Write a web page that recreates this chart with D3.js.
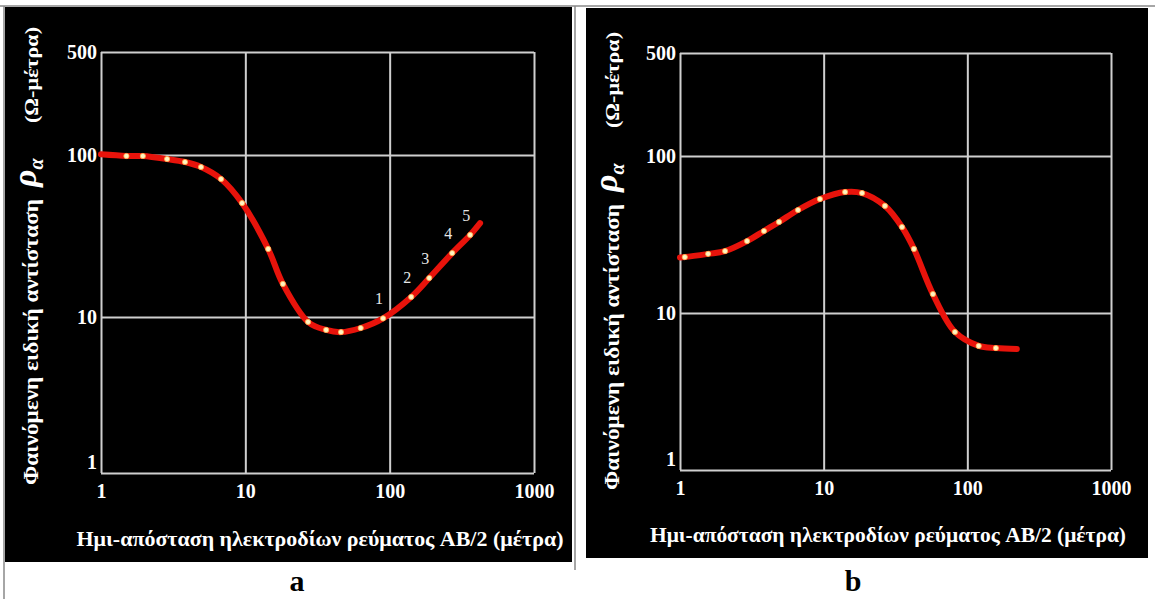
<!DOCTYPE html>
<html>
<head>
<meta charset="utf-8">
<script src="https://cdn.jsdelivr.net/npm/d3@7"></script>
<style>
  body { margin: 0; background: #fff; }
  svg { display: block; }
  svg text { font-family: 'Liberation Serif', 'DejaVu Serif', 'Times New Roman', serif; }
  .tick text { font-weight: bold; font-size: 20px; fill: #fff; }
</style>
</head>
<body>
<div id="app"></div>
<script>
// axis values
const xTicks = [1, 10, 100, 1000]
const yTicks = [1, 10, 100, 500]

// curve a : sounding points (AB/2 in m, rho_a in ohm-m)
const aX = [1.5, 1.95, 2.87, 3.82, 4.93, 6.79, 9.49, 14.4, 18.2, 27.2, 36.3, 46, 63, 90, 141, 188, 271, 361]
const aY = [98.6, 98.6, 94.5, 90.5, 84.3, 71.1, 50.5, 26.3, 16, 9.3, 8.26, 8.0, 8.5, 9.8, 13.3, 17.4, 24.8, 32.1]
const aStart = [1, 101]
const aEnd = [423, 38]
const aNumbers = ['1', '2', '3', '4', '5']
const aNumberX = [90, 141, 188, 271, 361]

// curve b
const bX = [1.08, 1.57, 2.06, 2.93, 3.84, 4.89, 6.63, 9.42, 14.1, 18.5, 26.7, 35.1, 42.5, 57.6, 82, 120, 158]
const bY = [22.7, 23.8, 24.8, 28.7, 33.3, 38.0, 45.3, 53.2, 59.0, 58.1, 48.1, 35.3, 25.6, 13.2, 7.57, 6.17, 5.98]
const bStart = [1, 22.6]
const bEnd = [221, 5.9]

const xTitle = 'Ημι-απόσταση ηλεκτροδίων ρεύματος AB/2 (μέτρα)'
const yTitle = 'Φαινόμενη ειδική αντίσταση'
const yUnit = '(Ω-μέτρα)'

const svg = d3.select('#app').append('svg').attr('width', 1155).attr('height', 599)

// table-like borders
svg.append('line').attr('x1', 0).attr('x2', 1155).attr('y1', 6).attr('y2', 6).attr('stroke', '#888').attr('stroke-width', 1.5)
svg.append('line').attr('x1', 4).attr('x2', 4).attr('y1', 6).attr('y2', 599).attr('stroke', '#888').attr('stroke-width', 1.5)
svg.append('line').attr('x1', 575).attr('x2', 575).attr('y1', 6).attr('y2', 570).attr('stroke', '#888').attr('stroke-width', 1.5)

function panel(o) {
  svg.append('rect').attr('x', o.bg[0]).attr('y', o.bg[1]).attr('width', o.bg[2]).attr('height', o.bg[3]).attr('fill', '#000')

  const x = d3.scaleLog().domain([1, 1000]).range(o.xr)
  const y = d3.scaleLog().domain(yTicks).range(o.yr)
  const g = svg.append('g')
  const h = o.yr[0] - o.yr[3]
  const w = o.xr[1] - o.xr[0]

  const gx = g.append('g').attr('transform', `translate(0,${o.yr[0]})`)
    .call(d3.axisBottom(x).tickValues(xTicks).tickFormat(d3.format('d')).tickSize(-h).tickPadding(11))
  const gy = g.append('g').attr('transform', `translate(${o.xr[0]},0)`)
    .call(d3.axisLeft(y).tickValues(yTicks).tickFormat(d3.format('d')).tickSize(-w).tickPadding(4))
  g.selectAll('.domain').remove()
  g.selectAll('g').attr('font-family', null)
  g.selectAll('.tick line').attr('stroke', '#cfcfcf').attr('stroke-width', 2)
  gy.selectAll('.tick text').filter(d => d === 1).attr('dy', '-0.25em')

  const pts = [o.start].concat(o.xs.map((d, i) => [d, o.ys[i]])).concat([o.end])
  const line = d3.line().x(d => x(d[0])).y(d => y(d[1])).curve(d3.curveCatmullRom.alpha(0.5))
  g.append('path').attr('d', line(pts)).attr('fill', 'none')
    .attr('stroke', '#e8130b').attr('stroke-width', 6).attr('stroke-linecap', 'round')

  g.selectAll('circle.pt').data(o.xs).enter().append('circle')
    .attr('class', 'pt')
    .attr('cx', d => x(d))
    .attr('cy', (d, i) => y(o.ys[i]))
    .attr('r', 2.6)
    .attr('fill', '#fff4c4')
    .attr('stroke', '#ffb347').attr('stroke-width', 0.8)

  if (o.numbers) {
    g.selectAll('text.num').data(o.numbers).enter().append('text')
      .attr('class', 'num')
      .attr('x', (d, i) => x(o.numberX[i]) - 4)
      .attr('y', (d, i) => y(o.ys[o.xs.indexOf(o.numberX[i])]) - 14)
      .attr('text-anchor', 'middle')
      .attr('font-size', 16).attr('fill', '#e6e6e6')
      .text(d => d)
  }

  // x title
  g.append('text').attr('x', o.xt[0]).attr('y', o.xt[1]).attr('text-anchor', 'middle')
    .attr('font-weight', 'bold').attr('font-size', 21).attr('fill', '#fff')
    .attr('textLength', o.xt[2]).attr('lengthAdjust', 'spacingAndGlyphs')
    .text(xTitle)

  // y title (rotated)
  const tx = o.yt[0], tb = o.yt[1]
  g.append('text').attr('transform', `translate(${tx},${tb}) rotate(-90)`)
    .attr('font-weight', 'bold').attr('font-size', 20).attr('fill', '#fff')
    .attr('dy', '0.35em').attr('textLength', 286).attr('lengthAdjust', 'spacingAndGlyphs')
    .text(yTitle)
  const rho = g.append('text').attr('transform', `translate(${tx},${tb - 298}) rotate(-90)`)
    .attr('font-weight', 'bold').attr('font-style', 'italic').attr('fill', '#fff')
    .attr('dy', '0.3em')
  rho.append('tspan').attr('font-size', 34).text('ρ')
  rho.append('tspan').attr('font-size', 20).attr('dy', 7).text('α')
  g.append('text').attr('transform', `translate(${tx},${tb - 362}) rotate(-90)`)
    .attr('font-weight', 'bold').attr('font-size', 19).attr('fill', '#fff')
    .attr('dy', '0.35em').attr('textLength', 96).attr('lengthAdjust', 'spacingAndGlyphs')
    .text(yUnit)

  svg.append('text').attr('x', o.tag[0]).attr('y', o.tag[1]).attr('text-anchor', 'middle')
    .attr('font-weight', 'bold').attr('font-size', 30).attr('fill', '#000')
    .text(o.tag[2])
}

panel({
  bg: [5, 7, 567, 555], xr: [101, 534], yr: [473, 317, 155, 52],
  xs: aX, ys: aY, start: aStart, end: aEnd, numbers: aNumbers, numberX: aNumberX,
  xt: [320, 546, 487], yt: [31, 485], tag: [297, 591, 'a']
})
panel({
  bg: [586, 8, 562, 550], xr: [680, 1111], yr: [470, 313, 156, 53],
  xs: bX, ys: bY, start: bStart, end: bEnd,
  xt: [888, 542, 476], yt: [612, 490], tag: [853, 591, 'b']
})
</script>
</body>
</html>
